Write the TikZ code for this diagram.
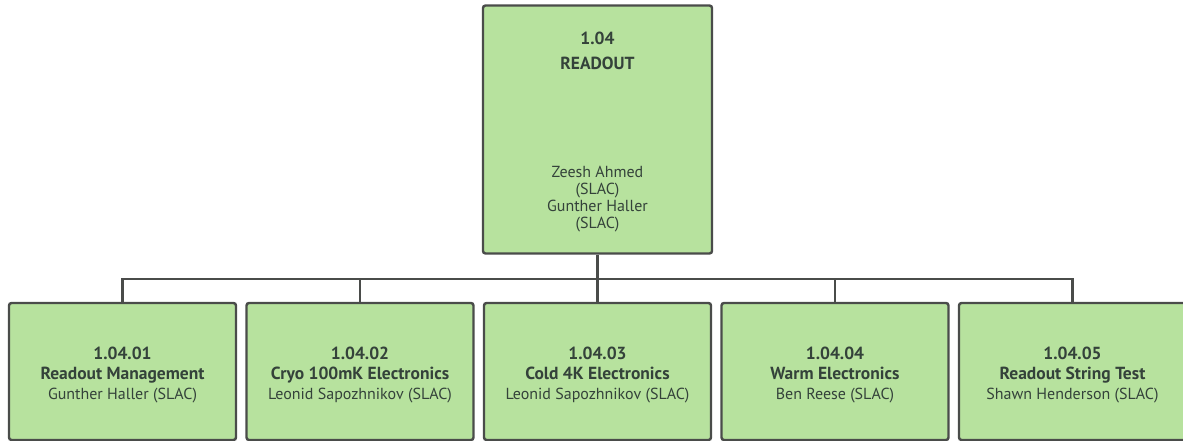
\documentclass[tikz,border=0pt]{standalone}
\usepackage{fontspec}
\setmainfont{PT Sans}
\definecolor{wbsgreen}{HTML}{B7E29E}
\definecolor{wbsline}{HTML}{4A4C4A}
\definecolor{wbstext}{HTML}{34423A}
% bold heading line, with a strut that sets how low the text sits
\newcommand{\wbsbold}[2][0pt]{{\fontsize{17.5}{20}\selectfont\bfseries\rule{0pt}{#1}#2}}
\tikzset{
  wbs/.style={draw=wbsline, line width=2.4pt, rounded corners=2.5pt, fill=wbsgreen,
    align=center, text=wbstext, inner sep=0pt},
  topbox/.style={wbs, minimum width=229pt, minimum height=248pt,
    font=\fontsize{16}{17}\selectfont},
  subbox/.style={wbs, minimum width=227pt, minimum height=137pt,
    font=\fontsize{16}{20}\selectfont},
  link/.style={draw=wbsline, line width=2.2pt}
}
\begin{document}
\begin{tikzpicture}[x=1pt, y=-1pt]
    \useasboundingbox (0,0) rectangle (1183,441);

    % Level 2 element
    \node[topbox] (readout) at (597.5,129.5) {%
      \wbsbold[16.6pt]{1.04}\\[8pt]
      \wbsbold{READOUT}\\[91pt]
      Zeesh Ahmed\\(SLAC)\\Gunther Haller\\(SLAC)};

    % Level 3 elements
    \node[subbox] (mgmt) at (122.5,371.5) {\wbsbold[20.5pt]{1.04.01}\\\wbsbold{Readout Management}\\Gunther Haller (SLAC)};
    \node[subbox] (cryo) at (360,371.5) {\wbsbold[20.5pt]{1.04.02}\\\wbsbold{Cryo 100mK Electronics}\\Leonid Sapozhnikov (SLAC)};
    \node[subbox] (cold) at (597.5,371.5) {\wbsbold[20.5pt]{1.04.03}\\\wbsbold{Cold 4K Electronics}\\Leonid Sapozhnikov (SLAC)};
    \node[subbox] (warm) at (835,371.5) {\wbsbold[20.5pt]{1.04.04}\\\wbsbold{Warm Electronics}\\Ben Reese (SLAC)};
    \node[subbox] (string) at (1072.5,371.5) {\wbsbold[20.5pt]{1.04.05}\\\wbsbold{Readout String Test}\\Shawn Henderson (SLAC)};

    % Connections
    \coordinate (bus) at (597.5,279);
    \draw[link] (readout) -- (bus);
    \foreach \child in {mgmt, cryo, cold, warm, string}
      \draw[link] (bus) -| (\child.north);
\end{tikzpicture}
\end{document}
